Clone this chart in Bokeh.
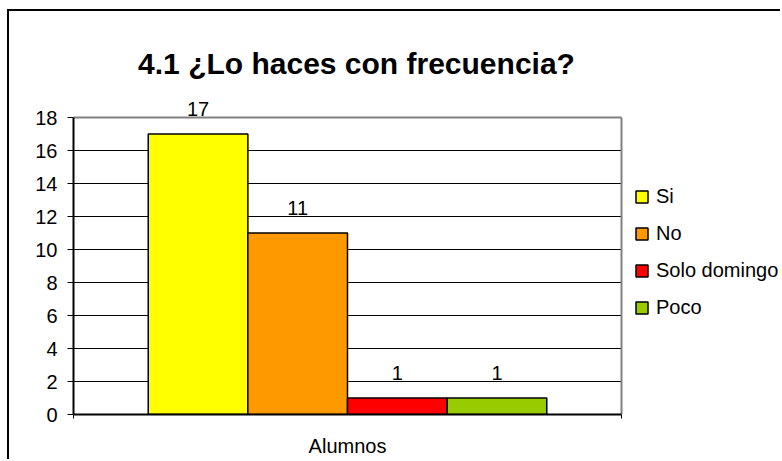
from bokeh.plotting import figure
from bokeh.models import (ColumnDataSource, FixedTicker, LabelSet, Label, Legend, LegendItem,
                          Grid, Range1d)
from bokeh.core.properties import value
from bokeh.embed import file_html
from bokeh.resources import INLINE

# ---- data ----
categories = ["Alumnos"]
series = ["Si", "No", "Solo domingo", "Poco"]
values = [17, 11, 1, 1]
colors = ["#FFFF00", "#FF9900", "#FF0000", "#99CC00"]
y_ticks = [0, 2, 4, 6, 8, 10, 12, 14, 16, 18]
title_text = "4.1 ¿Lo haces con frecuencia?"

FONT = "Liberation Sans"

# bar geometry from an Excel-like gap width of 150%
n = len(series)
gap = 1.5
w = 1.0 / (n + gap)
xs = [gap * w / 2 + w / 2 + i * w for i in range(n)]

src = ColumnDataSource(dict(x=xs, top=values, label=[str(v) for v in values]))

# canvas starts at page (9, 11) because of the CSS margins/border below
W, H = 773, 450
left_b, bottom_b = 64, 47
plot_w, plot_h = 548, 297          # pixel size of the 0..1 x 0..18 plot area
y_max = y_ticks[-1]
x_end = (W - left_b) / plot_w
y_end = y_max * (H - bottom_b) / plot_h

p = figure(width=W, height=H, output_backend="svg", toolbar_location=None,
           x_range=Range1d(0, x_end), y_range=Range1d(0, y_end),
           min_border_left=left_b, min_border_right=0, min_border_top=0,
           min_border_bottom=bottom_b)
p.styles = {"border-left": "2px solid black", "border-top": "2px solid black",
            "margin-left": "7px", "margin-top": "9px"}

p.background_fill_color = "white"
p.border_fill_color = "white"
p.outline_line_color = None

# grid lines inside the plot area
p.xgrid.visible = False
p.ygrid.ticker = FixedTicker(ticks=y_ticks[1:-1])
p.ygrid.cross_bounds = (0, 1)
p.ygrid.grid_line_color = "black"
p.ygrid.grid_line_width = 1
# gray top / right borders of the plot area
p.add_layout(Grid(dimension=1, ticker=FixedTicker(ticks=[y_max]), cross_bounds=(0, 1),
                  grid_line_color="#808080", grid_line_width=2))
p.add_layout(Grid(dimension=0, ticker=FixedTicker(ticks=[1]), cross_bounds=(0, y_max),
                  grid_line_color="#808080", grid_line_width=2))

renderers = []
for i in range(n):
    r = p.vbar(x=[xs[i]], top=[values[i]], bottom=0, width=w,
               fill_color=colors[i], line_color="black", line_width=1.5)
    renderers.append(r)

labels = LabelSet(x="x", y="top", text="label", source=src, y_offset=18,
                  text_align="center", text_baseline="alphabetic",
                  text_font=value(FONT), text_font_size=value("20px"), text_color="black")
p.add_layout(labels)

# y axis
ya = p.yaxis[0]
ya.ticker = FixedTicker(ticks=y_ticks)
ya.bounds = (0, y_max)
ya.axis_line_color = "black"
ya.axis_line_width = 2
ya.major_tick_line_color = "black"
ya.major_tick_out = 6
ya.major_tick_in = 0
ya.minor_tick_line_color = None
ya.major_label_text_font = FONT
ya.major_label_text_font_size = "20px"
ya.major_label_text_color = "black"
ya.major_label_standoff = 10

# x axis
xa = p.xaxis[0]
xa.ticker = FixedTicker(ticks=[0.5], minor_ticks=[0, 1])
xa.bounds = (0, 1)
xa.major_label_overrides = {0.5: categories[0]}
xa.axis_line_color = "black"
xa.axis_line_width = 2
xa.major_tick_line_color = None
xa.major_tick_out = 0
xa.major_tick_in = 0
xa.minor_tick_line_color = "black"
xa.minor_tick_out = 4
xa.minor_tick_in = 0
xa.major_label_text_font = FONT
xa.major_label_text_font_size = "20px"
xa.major_label_text_color = "black"
xa.major_label_standoff = 16

# legend (inside the extended frame, to the right of the plot area)
legend = Legend(items=[LegendItem(label=series[i], renderers=[renderers[i]]) for i in range(n)],
                location=(561, 95), orientation="vertical",
                glyph_width=15, glyph_height=15, label_standoff=7,
                label_height=24, spacing=13, padding=0, margin=0,
                border_line_color=None, background_fill_alpha=0,
                label_text_font=FONT, label_text_font_size="20px", label_text_color="black")
p.add_layout(legend, "center")

# title
p.add_layout(Label(x=0.5, y=y_max, x_offset=9, y_offset=54, text=title_text,
                   text_align="center", text_baseline="alphabetic",
                   text_font=FONT, text_font_size="30px", text_font_style="bold",
                   text_color="black"))

open("out.html", "w").write(file_html(p, INLINE))
